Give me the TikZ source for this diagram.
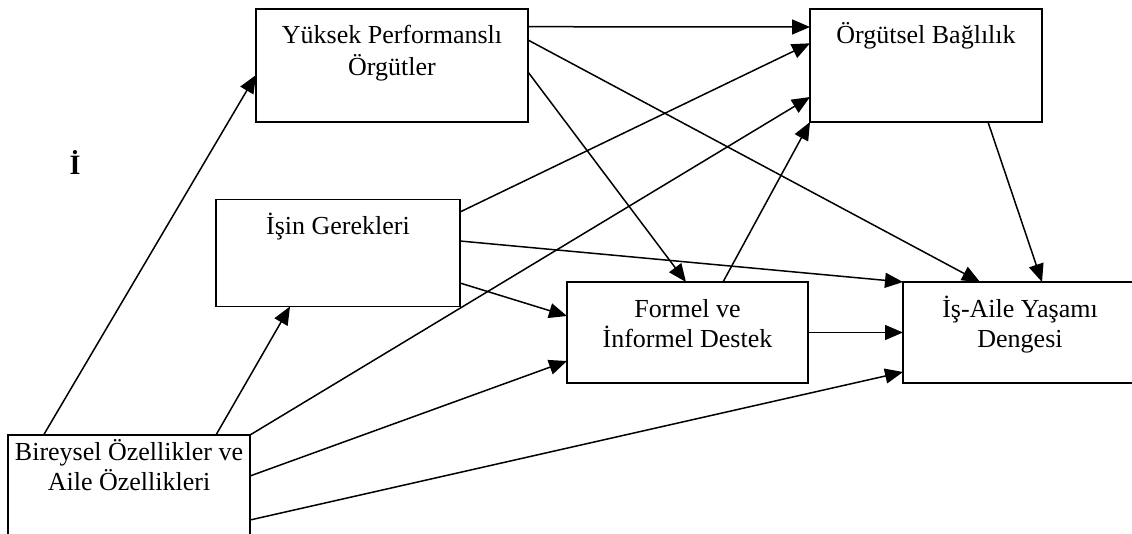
\documentclass[tikz,border=0pt]{standalone}
\usepackage{fontspec}
\setmainfont{Liberation Serif}
\usetikzlibrary{arrows.meta}
\begin{document}
\begin{tikzpicture}[x=1pt,y=-1pt,
  box/.style={draw, line width=1.6pt, inner sep=0pt, outer sep=0pt, rectangle},
  lbl/.style={font=\fontsize{26}{31}\selectfont, align=center, anchor=base, inner sep=0pt},
  arr/.style={line width=1.5pt, -{Triangle[length=18pt,width=15pt]}}]
\fill[white] (0,0) rectangle (1132,533);
\useasboundingbox (0,0) rectangle (1132,533);

% boxes
\node[box, minimum width=272pt, minimum height=113pt] (yuk) at (392,65.2) {};
\node[box, minimum width=232pt, minimum height=113pt] (org) at (926,65.5) {};
\node[box, minimum width=244pt, minimum height=107pt] (isin) at (338,253) {};
\node[box, minimum width=241pt, minimum height=101pt] (formel) at (687.5,332.5) {};
\node[box, minimum width=234pt, minimum height=101pt] (denge) at (1020,332.5) {};
\node[box, minimum width=242pt, minimum height=113pt] (birey) at (129,491.5) {};

% texts
\node[lbl] (tyuk1) at (392,43) {Yüksek Performanslı};
\node[lbl] (tyuk2) at (392,75) {Örgütler};
\node[lbl] (torg) at (926,43) {Örgütsel Bağlılık};
\node[lbl] (tisin) at (338,234) {İşin Gerekleri};
\node[lbl] (tfor1) at (687.5,317) {Formel ve};
\node[lbl] (tfor2) at (687.5,347) {İnformel Destek};
\node[lbl] (tden1) at (1020,317) {İş-Aile Yaşamı};
\node[lbl] (tden2) at (1020,347) {Dengesi};
\node[lbl] (tbir1) at (129,460) {Bireysel Özellikler ve};
\node[lbl] (tbir2) at (129,490) {Aile Özellikleri};
\node[lbl, font=\fontsize{28}{32}\selectfont\bfseries] (ibig) at (75,174) {İ};

% connectors
\draw[arr] ([xshift=35.6pt]birey.north west) -- ([yshift=-66.3pt]yuk.north west);
\draw[arr] ([xshift=208pt]birey.north west) -- ([xshift=74pt]isin.south west);
\draw[arr] (birey.north east) -- ([yshift=-88pt]org.north west);
\draw[arr] ([yshift=-18pt]yuk.north east) -- ([yshift=-18pt]org.north west);
\draw[arr] ([yshift=-12.5pt]isin.north east) -- ([yshift=-34.3pt]org.north west);
\draw[arr] ([yshift=-31.3pt]yuk.north east) -- ([xshift=77pt]denge.north west);
\draw[arr] ([yshift=-63.3pt]yuk.north east) -- ([xshift=119pt]formel.north west);
\draw[arr] ([yshift=-41.5pt]isin.north east) -- (denge.north west);
\draw[arr] ([yshift=-83.5pt]isin.north east) -- ([yshift=-34pt]formel.north west);
\draw[arr] ([yshift=-41pt]birey.north east) -- ([yshift=-79pt]formel.north west);
\draw[arr] ([yshift=-85pt]birey.north east) -- ([yshift=-90pt]denge.north west);
\draw[arr] ([xshift=156pt]formel.north west) -- (org.south west);
\draw[arr] (formel.east) -- (denge.west);
\draw[arr] ([xshift=178pt]org.south west) -- ([xshift=139pt]denge.north west);
\end{tikzpicture}
\end{document}
